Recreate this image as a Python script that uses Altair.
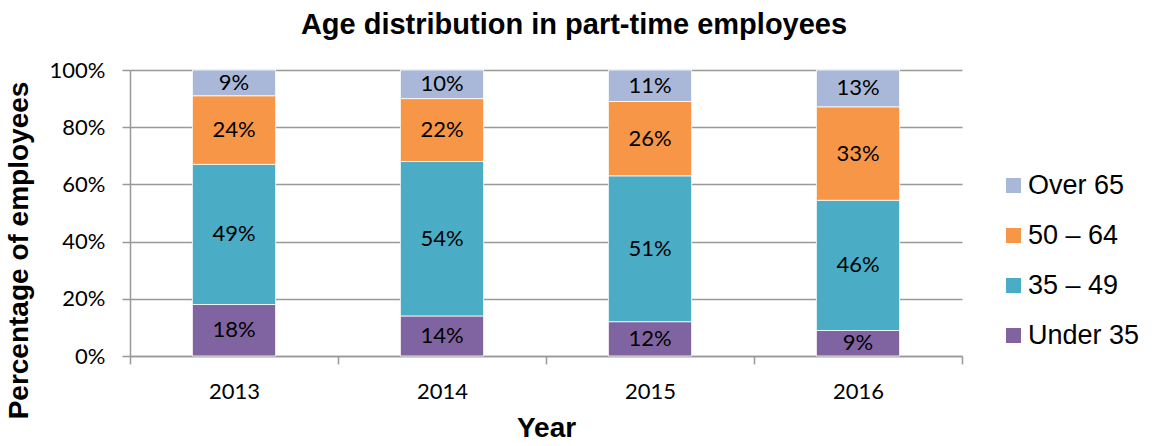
import altair as alt
import pandas as pd

years = ["2013", "2014", "2015", "2016"]
groups = ["Under 35", "35 – 49", "50 – 64", "Over 65"]
under35 = [18, 14, 12, 9]
age35_49 = [49, 54, 51, 46]
age50_64 = [24, 22, 26, 33]
over65 = [9, 10, 11, 13]
colors = ["#8064A2", "#4BACC6", "#F79646", "#A9B8D9"]

series = [under35, age35_49, age50_64, over65]
rows = []
for gi, (g, vals) in enumerate(zip(groups, series)):
    for y, v in zip(years, vals):
        rows.append({"year": y, "group": g, "value": v, "order": gi})
df = pd.DataFrame(rows)

legend_order = list(reversed(groups))
legend_colors = list(reversed(colors))

base = alt.Chart(df).transform_stack(
    stack="value", groupby=["year"], as_=["y0", "y1"],
    sort=[alt.SortField("order", order="ascending")], offset="normalize"
).transform_calculate(mid="(datum.y0 + datum.y1) / 2", label="datum.value + '%'")

xenc = alt.X(
    "year:N",
    sort=years,
    scale=alt.Scale(paddingInner=0, paddingOuter=0),
    axis=alt.Axis(
        title="Year", tickBand="extent", labelAngle=0, labelFont="Lato",
        labelFontSize=22, labelColor="black", labelPadding=17,
        titleFont="Liberation Sans", titleFontSize=28, titleFontWeight="bold",
        titleColor="black", titlePadding=12, tickSize=8, tickColor="#999999",
        domainColor="#999999", domainWidth=1.5, tickWidth=1.5, grid=False,
    ),
)

bars = base.mark_bar(width=alt.RelativeBandSize(0.4), stroke="white", strokeWidth=0.8).encode(
    x=xenc,
    y=alt.Y(
        "y0:Q",
        scale=alt.Scale(domain=[0, 1]),
        axis=alt.Axis(
            title="Percentage of employees", format=".0%", values=[0, 0.2, 0.4, 0.6, 0.8, 1.0],
            labelFont="Lato", labelFontSize=22, labelColor="black", labelPadding=17,
            titleFont="Liberation Sans", titleFontSize=28, titleFontWeight="bold",
            titleColor="black", titleAngle=270, titleBaseline="bottom",
            titleX=-97, titleY=180, tickSize=8, tickColor="#999999",
            domainColor="#999999", domainWidth=1.5, tickWidth=1.5,
            grid=True, gridColor="#999999", gridWidth=1.5,
        ),
    ),
    y2="y1:Q",
    color=alt.Color(
        "group:N",
        scale=alt.Scale(domain=legend_order, range=legend_colors),
        legend=alt.Legend(
            title=None, orient="none", legendX=870, legendY=102,
            symbolType="square", symbolSize=225, symbolStrokeWidth=0,
            labelFont="Liberation Sans", labelFontSize=27, labelColor="black",
            labelOffset=1, rowPadding=22,
        ),
    ),
    order=alt.Order("order:Q"),
)

texts = base.mark_text(font="Lato", fontSize=22, color="black").encode(
    x=alt.X("year:N", sort=years),
    y=alt.Y("mid:Q"),
    text="label:N",
)

chart = alt.layer(bars, texts).properties(
    width=832,
    height=286,
    autosize=alt.AutoSizeParams(type="none"),
    padding={"left": 130, "top": 70, "right": 194, "bottom": 90},
    title=alt.TitleParams(
        "Age distribution in part-time employees",
        font="Liberation Sans", fontSize=29, fontWeight="bold", color="black",
        anchor="middle", dx=28, offset=19,
    ),
).configure_view(stroke=None)

chart.save("out.html", embed_options={"renderer": "svg", "actions": False})
